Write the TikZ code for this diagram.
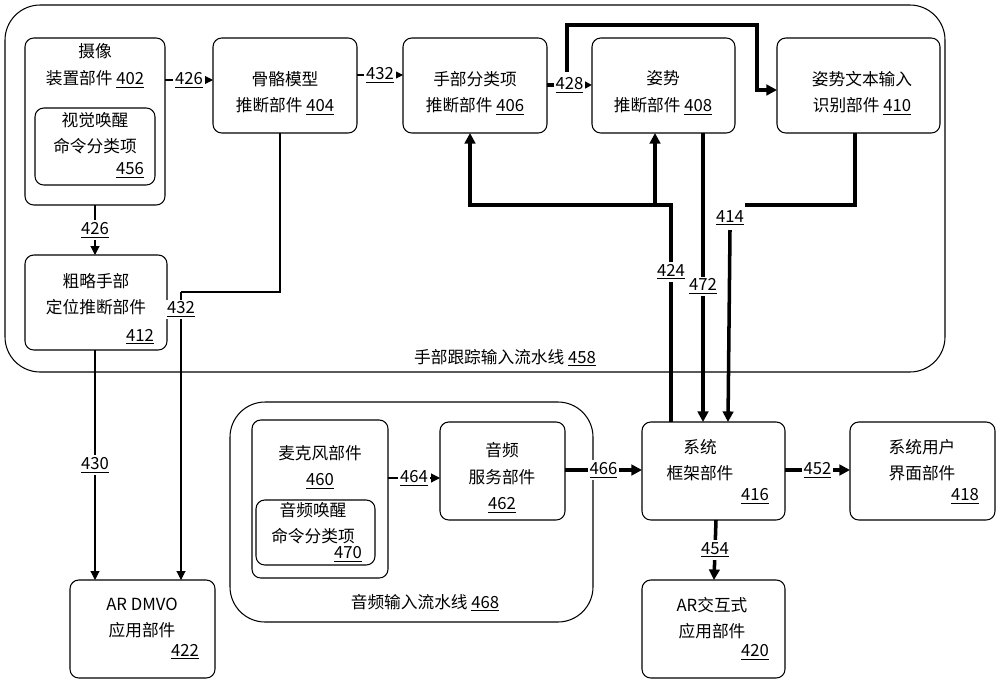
\documentclass[tikz,border=0pt]{standalone}
\usepackage{fontspec}
\setmainfont{Noto Sans CJK SC}
\usetikzlibrary{arrows.meta}
\begin{document}
\begin{tikzpicture}[x=0.02cm,y=-0.02cm,font=\fontsize{9.5}{15}\selectfont,
  every node/.style={align=center},
  box/.style={draw,rounded corners=5pt,line width=0.6pt},
  pipe/.style={draw,rounded corners=20pt,line width=0.6pt},
  ln/.style={line width=0.6pt,-{Triangle[length=5pt,width=5pt]}},
  tk/.style={line width=2pt,-{Triangle[length=6pt,width=6pt]}},
  lab/.style={fill=white,inner sep=1pt}]
\useasboundingbox (0,0) rectangle (1000,683);
\newcommand{\un}[1]{\underline{#1}}
% pipelines
\draw[pipe] (5,5) rectangle (945,372);
\node[anchor=base] (p458) at (505,363) {手部跟踪输入流水线 \un{458}};
\draw[pipe] (230,402) rectangle (593,622);
\node[anchor=base] (p468) at (425,608) {音频输入流水线 \un{468}};
% boxes
\draw[box] (25,38) rectangle (165,205);
\node at (95,66) {摄像\\装置部件 \un{402}};
\draw[box] (35,108) rectangle (155,185);
\node at (95,133) {视觉唤醒\\命令分类项};
\node[anchor=east] at (150,170) {\un{456}};
\draw[box] (213,38) rectangle (357,133);
\node at (285,93) {骨骼模型\\推断部件 \un{404}};
\draw[box] (403,38) rectangle (547,133);
\node at (475,93) {手部分类项\\推断部件 \un{406}};
\draw[box] (592,38) rectangle (735,133);
\node at (663,93) {姿势\\推断部件 \un{408}};
\draw[box] (777,38) rectangle (940,133);
\node at (862,93) {姿势文本输入\\识别部件 \un{410}};
\draw[box] (25,255) rectangle (167,350);
\node at (96,294) {粗略手部\\定位推断部件};
\node[anchor=east] at (160,337) {\un{412}};
\draw[box] (70,580) rectangle (215,678);
\node at (142,618) {AR DMVO\\应用部件};
\node[anchor=east] at (205,652) {\un{422}};
\draw[box] (252,420) rectangle (388,578);
\node at (320,467) {麦克风部件\\\un{460}};
\draw[box] (256,500) rectangle (375,565);
\node at (313,523) {音频唤醒\\命令分类项};
\node[anchor=east] at (368,554) {\un{470}};
\draw[box] (440,422) rectangle (565,520);
\node at (502,478) {音频\\服务部件\\\un{462}};
\draw[box] (642,422) rectangle (785,520);
\node at (700,460) {系统\\框架部件};
\node[anchor=east] at (775,496) {\un{416}};
\draw[box] (850,422) rectangle (995,520);
\node at (922,460) {系统用户\\界面部件};
\node[anchor=east] at (985,496) {\un{418}};
\draw[box] (642,580) rectangle (785,678);
\node at (712,618) {AR交互式\\应用部件};
\node[anchor=east] at (775,652) {\un{420}};
% thin connectors
\draw[ln] (165,80) -- node[lab]{\un{426}} (213,80);
\draw[ln] (357,75) -- node[lab]{\un{432}} (403,75);
\draw[ln] (95,205) -- node[lab]{\un{426}} (95,255);
\draw[line width=0.6pt] (280,133) -- (280,292) -- (181,292);
\draw[ln] (181,292) -- node[lab,pos=0.06]{\un{432}} (181,580);
\draw[ln] (95,350) -- node[lab,pos=0.5]{\un{430}} (95,580);
\draw[ln] (388,478) -- node[lab]{\un{464}} (440,478);
% thick connectors
\draw[tk] (547,85) -- node[lab]{\un{428}} (592,85);
\draw[tk] (567,72) -- (567,25) -- (757,25) -- (757,90) -- (777,90);
\draw[tk] (671,422) -- (671,205) -- (470,205) -- (470,133);
\draw[tk] (655,205) -- (655,133);
\node[lab] at (671,272) {\un{424}};
\draw[tk] (703,133) -- node[lab,pos=0.53]{\un{472}} (703,422);
\draw[line width=2pt] (855,133) -- (855,205) -- (745,205);
\node[lab] at (730,218) {\un{414}};
\draw[tk] (730,230) -- (728,422);
\draw[tk] (565,470) -- node[lab]{\un{466}} (642,470);
\draw[tk] (785,470) -- node[lab]{\un{452}} (850,470);
\draw[tk] (716,520) -- node[lab]{\un{454}} (714,580);
\end{tikzpicture}
\end{document}
